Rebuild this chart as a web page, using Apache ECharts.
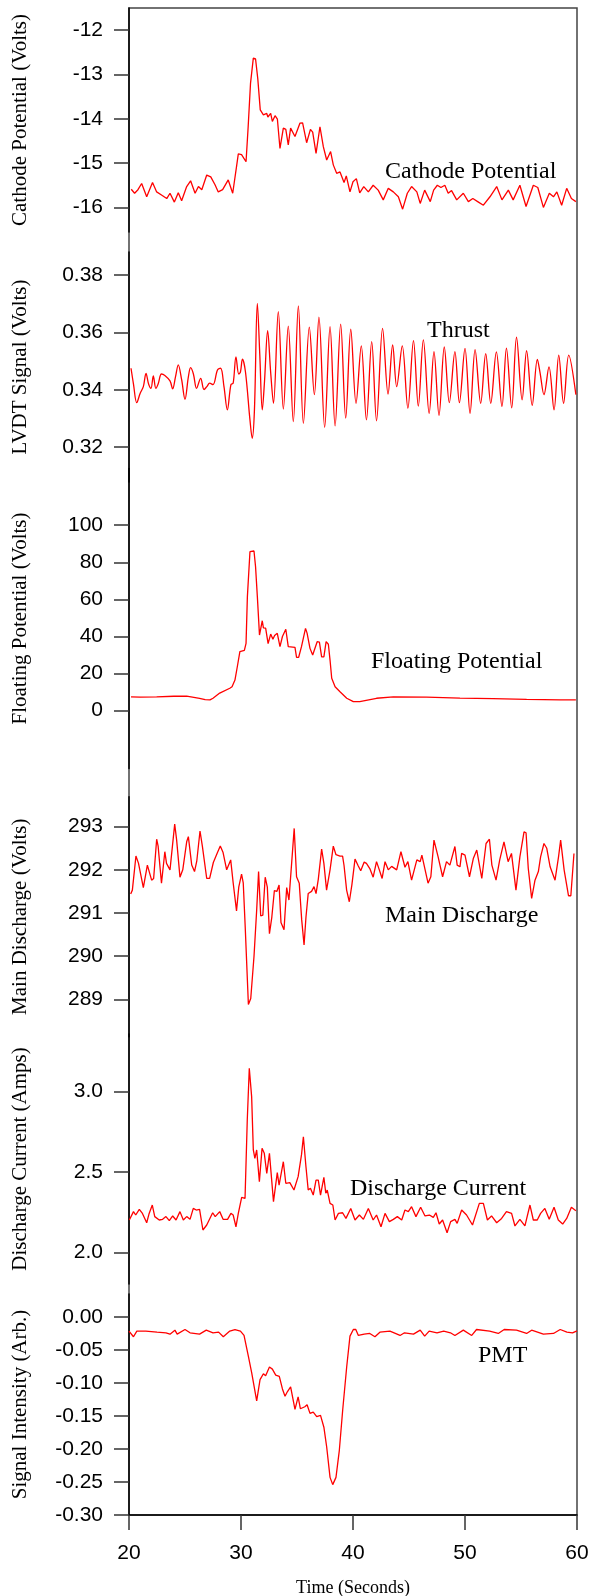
<!DOCTYPE html>
<html>
<head>
<meta charset="utf-8">
<script src="https://cdn.jsdelivr.net/npm/echarts@6/dist/echarts.min.js"></script>
<style>
  html, body { margin: 0; padding: 0; background: #fff; }
  #chart { width: 590px; height: 1596px; }
</style>
</head>
<body>
<div id="chart"></div>
<script>
// time (s), value
const cathode = [[20.2,-15.59],[20.5,-15.68],[20.8,-15.6],[21.13,-15.46],[21.58,-15.76],[22.1,-15.44],[22.47,-15.65],[22.9,-15.72],[23.37,-15.8],[23.66,-15.68],[24.05,-15.88],[24.4,-15.67],[24.7,-15.85],[25.15,-15.53],[25.5,-15.4],[25.9,-15.68],[26.2,-15.53],[26.5,-15.6],[26.94,-15.27],[27.3,-15.31],[27.68,-15.49],[27.97,-15.65],[28.36,-15.6],[28.86,-15.38],[29.26,-15.68],[29.6,-15.08],[29.76,-14.79],[30.05,-14.81],[30.45,-14.97],[30.64,-14.18],[30.85,-13.2],[31.1,-12.63],[31.3,-12.65],[31.5,-13.1],[31.72,-13.8],[32.0,-13.91],[32.3,-13.88],[32.4,-13.96],[32.65,-13.88],[32.8,-14.06],[33.04,-13.93],[33.25,-14.01],[33.48,-14.67],[33.78,-14.21],[34.0,-14.24],[34.22,-14.59],[34.43,-14.21],[34.82,-14.4],[35.26,-14.1],[35.5,-14.09],[35.86,-14.54],[36.2,-14.24],[36.4,-14.3],[36.7,-14.78],[37.05,-14.18],[37.35,-14.63],[37.65,-14.93],[38.0,-14.74],[38.24,-15.04],[38.54,-15.23],[38.84,-15.2],[39.2,-15.44],[39.4,-15.29],[39.73,-15.65],[40.0,-15.42],[40.3,-15.35],[40.6,-15.67],[40.96,-15.53],[41.37,-15.65],[41.8,-15.5],[42.25,-15.61],[42.7,-15.83],[43.15,-15.57],[43.6,-15.65],[44.05,-15.76],[44.43,-16.04],[44.85,-15.68],[45.23,-15.53],[45.7,-15.65],[46.0,-15.91],[46.4,-15.61],[46.9,-15.87],[47.2,-15.61],[47.53,-15.5],[47.85,-15.55],[48.2,-15.5],[48.5,-15.68],[48.8,-15.62],[49.26,-15.83],[49.85,-15.68],[50.3,-15.87],[50.7,-15.8],[51.2,-15.88],[51.64,-15.95],[52.23,-15.76],[52.83,-15.53],[53.3,-15.83],[53.87,-15.61],[54.3,-15.83],[54.9,-15.5],[55.45,-15.98],[56.1,-15.5],[56.5,-15.55],[57.0,-16.0],[57.53,-15.68],[57.9,-15.76],[58.2,-15.65],[58.63,-15.95],[59.08,-15.57],[59.5,-15.8],[59.9,-15.87]];

const thrust = [[20.18,0.3475],[20.4,0.342],[20.69,0.3355],[21.0,0.3388],[21.28,0.3411],[21.52,0.3457],[21.75,0.342],[21.96,0.3405],[22.17,0.3448],[22.4,0.3405],[22.6,0.342],[22.9,0.3455],[23.2,0.345],[23.66,0.3431],[23.9,0.3403],[24.15,0.3445],[24.4,0.3487],[24.7,0.3435],[25.0,0.3367],[25.3,0.3445],[25.5,0.3477],[25.75,0.3455],[26.03,0.3405],[26.4,0.344],[26.7,0.3401],[26.95,0.3411],[27.2,0.3423],[27.5,0.3418],[27.9,0.3469],[28.18,0.3475],[28.48,0.3411],[28.78,0.333],[29.1,0.3418],[29.3,0.3423],[29.55,0.3515],[29.8,0.3455],[29.95,0.3462],[30.13,0.3507],[30.4,0.3462],[30.8,0.3295],[31.0,0.3231],[31.2,0.333],[31.46,0.3701],[31.68,0.352],[31.9,0.333],[32.1,0.343],[32.38,0.3606],[32.65,0.346],[32.9,0.3353],[33.33,0.3672],[33.78,0.3333],[34.22,0.3622],[34.67,0.3289],[35.12,0.3692],[35.57,0.3283],[36.1,0.3618],[36.55,0.3383],[36.96,0.3653],[37.47,0.3269],[37.95,0.362],[38.4,0.3274],[38.9,0.3629],[39.35,0.3301],[39.8,0.3611],[40.27,0.3353],[40.74,0.3553],[41.2,0.3295],[41.67,0.3568],[42.1,0.3292],[42.64,0.3614],[43.13,0.3385],[43.54,0.3556],[43.9,0.3411],[44.4,0.3553],[44.9,0.3336],[45.4,0.3571],[45.83,0.3343],[46.28,0.3574],[46.8,0.3318],[47.23,0.3533],[47.68,0.3311],[48.15,0.3549],[48.6,0.3355],[49.1,0.3533],[49.5,0.3355],[50.0,0.3544],[50.45,0.3318],[50.9,0.354],[51.4,0.3353],[51.85,0.3526],[52.3,0.3353],[52.8,0.3532],[53.3,0.3342],[53.7,0.3545],[54.17,0.3337],[54.6,0.3583],[55.1,0.3365],[55.5,0.3536],[56.0,0.3346],[56.46,0.3506],[56.7,0.346],[57.05,0.3383],[57.5,0.348],[57.95,0.333],[58.37,0.3521],[58.8,0.3353],[59.26,0.3521],[59.9,0.3383]];

const floating = [[20.18,7.5],[21.0,7.3],[22.47,7.5],[24.0,7.8],[25.15,7.9],[26.3,6.7],[26.8,6.0],[27.23,5.8],[27.5,6.7],[28.1,9.5],[29.0,12.1],[29.2,12.9],[29.46,16.5],[29.67,23.7],[29.9,31.8],[30.3,32.5],[30.45,36.3],[30.57,61.5],[30.8,85.7],[31.16,86.1],[31.3,77.6],[31.46,61.5],[31.65,40.8],[31.9,48.5],[32.0,44.6],[32.2,44.5],[32.42,36.2],[32.65,41.3],[32.85,38.5],[33.0,40.5],[33.24,41.7],[33.48,34.5],[33.7,40.0],[34.0,43.9],[34.22,34.5],[34.82,34.1],[34.96,28.8],[35.15,28.8],[35.4,34.5],[35.76,44.4],[35.9,41.8],[36.16,33.6],[36.4,30.0],[36.55,29.0],[36.8,37.2],[37.0,37.0],[37.2,29.0],[37.4,29.0],[37.6,37.2],[37.8,35.8],[37.95,27.3],[38.1,17.5],[38.4,12.9],[38.84,10.2],[39.44,6.7],[40.03,4.9],[40.6,4.9],[42.1,6.7],[43.6,7.5],[46.57,7.3],[49.55,6.8],[52.5,6.5],[55.5,6.1],[58.5,5.8],[59.9,5.8]];

const mainDischarge = [[20.15,291.44],[20.3,291.53],[20.62,292.32],[20.85,292.15],[21.28,291.59],[21.64,292.11],[21.8,292.11],[22.02,291.76],[22.2,291.8],[22.47,292.71],[22.6,292.55],[22.9,291.69],[23.2,292.42],[23.35,292.15],[23.66,292.0],[24.08,293.06],[24.25,292.7],[24.55,291.83],[24.8,292.0],[25.15,292.65],[25.3,292.77],[25.6,292.11],[25.85,291.96],[26.05,292.2],[26.34,292.9],[26.55,292.55],[26.94,291.8],[27.2,291.8],[27.53,292.17],[27.9,292.4],[28.15,292.55],[28.4,292.4],[28.72,292.0],[29.08,292.23],[29.3,291.7],[29.6,291.05],[29.8,291.6],[30.05,291.9],[30.2,291.7],[30.38,290.65],[30.66,288.88],[30.87,289.02],[31.16,289.99],[31.4,291.07],[31.57,291.96],[31.76,290.93],[31.95,290.95],[32.16,291.83],[32.35,291.6],[32.54,290.52],[32.75,290.9],[32.98,291.52],[33.2,291.5],[33.4,291.65],[33.57,290.78],[33.84,290.61],[34.08,291.59],[34.28,291.3],[34.52,292.15],[34.75,292.96],[34.96,291.84],[35.2,291.69],[35.42,290.84],[35.63,290.26],[35.8,290.9],[36.0,291.45],[36.3,291.5],[36.52,291.61],[36.7,291.45],[36.9,291.78],[37.2,292.48],[37.4,292.15],[37.64,291.53],[37.95,292.0],[38.24,292.55],[38.48,292.35],[38.84,292.32],[39.07,292.32],[39.2,292.1],[39.43,291.53],[39.67,291.26],[39.9,291.65],[40.18,292.25],[40.45,292.1],[40.69,291.98],[41.0,292.18],[41.2,292.15],[41.5,292.03],[41.8,291.83],[42.1,292.19],[42.35,292.0],[42.6,291.8],[42.86,292.19],[43.15,292.0],[43.45,292.08],[43.9,292.0],[44.28,292.42],[44.64,292.06],[44.9,292.19],[45.23,291.76],[45.7,292.23],[46.0,292.19],[46.15,292.34],[46.7,291.69],[46.95,291.84],[47.23,292.69],[47.6,292.3],[48.0,291.84],[48.35,292.19],[48.65,292.11],[49.1,292.54],[49.3,292.11],[49.55,292.07],[49.7,292.38],[50.0,292.34],[50.4,291.84],[50.75,292.27],[51.05,292.46],[51.5,291.8],[51.88,292.61],[52.18,292.71],[52.4,292.11],[52.77,291.76],[53.1,292.23],[53.48,292.65],[53.85,292.19],[54.15,292.38],[54.55,291.53],[54.9,292.3],[55.27,292.88],[55.45,292.86],[55.65,292.03],[55.95,291.34],[56.25,291.76],[56.55,291.96],[56.75,292.3],[57.05,292.61],[57.3,292.5],[57.6,292.07],[58.04,291.76],[58.35,292.3],[58.54,292.69],[58.85,292.0],[59.24,291.4],[59.45,291.4],[59.73,292.38]];

const dischargeCurrent = [[20.03,2.203],[20.4,2.255],[20.6,2.234],[20.92,2.269],[21.2,2.244],[21.58,2.186],[21.8,2.244],[22.08,2.296],[22.3,2.224],[22.7,2.203],[23.0,2.207],[23.3,2.224],[23.6,2.199],[23.9,2.228],[24.2,2.203],[24.55,2.255],[24.85,2.203],[25.15,2.224],[25.45,2.207],[25.74,2.275],[26.0,2.265],[26.3,2.269],[26.6,2.141],[26.94,2.172],[27.47,2.248],[27.7,2.224],[28.1,2.255],[28.4,2.207],[28.8,2.207],[29.1,2.244],[29.3,2.234],[29.55,2.161],[29.76,2.244],[30.06,2.344],[30.36,2.337],[30.56,2.824],[30.74,3.145],[30.95,2.969],[31.1,2.638],[31.24,2.586],[31.4,2.638],[31.64,2.441],[31.88,2.648],[32.08,2.617],[32.3,2.493],[32.54,2.617],[32.9,2.317],[33.24,2.497],[33.4,2.42],[33.78,2.565],[34.0,2.431],[34.36,2.435],[34.73,2.389],[35.1,2.472],[35.4,2.607],[35.57,2.72],[35.8,2.534],[36.0,2.389],[36.2,2.4],[36.45,2.358],[36.7,2.451],[36.9,2.451],[37.1,2.358],[37.4,2.468],[37.57,2.369],[37.7,2.389],[37.95,2.306],[38.2,2.296],[38.4,2.203],[38.7,2.244],[39.07,2.248],[39.37,2.213],[39.8,2.275],[40.18,2.203],[40.57,2.234],[40.93,2.207],[41.37,2.275],[41.8,2.203],[42.1,2.234],[42.5,2.161],[42.86,2.244],[43.25,2.193],[43.6,2.207],[43.96,2.224],[44.35,2.203],[44.64,2.265],[44.94,2.255],[45.23,2.286],[45.62,2.224],[46.04,2.282],[46.43,2.228],[46.82,2.234],[47.17,2.219],[47.41,2.248],[47.7,2.178],[48.0,2.203],[48.4,2.124],[48.72,2.193],[49.1,2.207],[49.3,2.182],[49.7,2.265],[50.14,2.234],[50.67,2.172],[51.28,2.306],[51.64,2.306],[52.0,2.203],[52.37,2.228],[52.83,2.186],[53.27,2.213],[53.7,2.255],[54.16,2.244],[54.46,2.166],[54.9,2.207],[55.35,2.166],[55.8,2.296],[56.1,2.203],[56.45,2.203],[56.75,2.244],[57.13,2.275],[57.52,2.207],[57.95,2.282],[58.33,2.203],[58.72,2.178],[59.08,2.213],[59.5,2.282],[59.9,2.261]];

const pmt = [[20.0,-0.0214],[20.4,-0.03],[20.7,-0.0214],[21.5,-0.0214],[22.5,-0.023],[23.3,-0.024],[23.66,-0.026],[24.1,-0.02],[24.3,-0.026],[25.0,-0.019],[25.45,-0.024],[26.3,-0.026],[26.9,-0.02],[27.5,-0.024],[28.0,-0.023],[28.42,-0.03],[29.0,-0.0214],[29.46,-0.019],[29.95,-0.0214],[30.27,-0.028],[30.66,-0.0596],[30.96,-0.085],[31.4,-0.127],[31.7,-0.095],[32.0,-0.086],[32.2,-0.089],[32.54,-0.0759],[32.8,-0.079],[33.1,-0.088],[33.42,-0.09],[33.7,-0.109],[33.93,-0.12],[34.15,-0.113],[34.43,-0.106],[34.82,-0.14],[35.1,-0.121],[35.3,-0.139],[35.7,-0.136],[35.9,-0.133],[36.16,-0.146],[36.45,-0.144],[36.76,-0.151],[37.1,-0.149],[37.4,-0.167],[37.65,-0.197],[37.95,-0.243],[38.19,-0.254],[38.48,-0.243],[38.78,-0.202],[39.08,-0.141],[39.44,-0.075],[39.73,-0.029],[40.03,-0.019],[40.25,-0.019],[40.48,-0.028],[41.0,-0.026],[41.5,-0.025],[41.96,-0.03],[42.4,-0.023],[43.3,-0.0214],[44.2,-0.028],[44.6,-0.024],[45.4,-0.026],[46.0,-0.02],[46.4,-0.029],[46.8,-0.0214],[47.5,-0.024],[48.1,-0.0214],[48.7,-0.024],[49.1,-0.028],[49.85,-0.02],[50.6,-0.028],[51.03,-0.019],[52.2,-0.0214],[52.97,-0.025],[53.5,-0.019],[54.6,-0.02],[55.5,-0.025],[55.95,-0.02],[57.0,-0.026],[57.9,-0.025],[58.5,-0.019],[59.1,-0.023],[59.6,-0.024],[60.0,-0.021]];

// tick values of each panel
const cathodeTicks = [-16, -15, -14, -13, -12];
const thrustTicks = [0.32, 0.34, 0.36, 0.38];
const floatingTicks = [0, 20, 40, 60, 80, 100];
const mainTicks = [289, 290, 291, 292, 293];
const currentTicks = [2.0, 2.5, 3.0];
const pmtTicks = [0, -0.05, -0.1, -0.15, -0.2, -0.25, -0.3];
const timeTicks = [20, 30, 40, 50, 60];

// panel layout (pixels) and axis ranges
const panels = [
  { title: 'Cathode Potential (Volts)', tag: 'Cathode Potential', data: cathode, ticks: cathodeTicks, digits: 0, top: 8, height: 224, min: -16.555, max: -11.5, tagX: 385, tagY: 172 },
  { title: 'LVDT Signal (Volts)', tag: 'Thrust', data: thrust, ticks: thrustTicks, digits: 2, top: 252, height: 230, min: 0.30787, max: 0.38801, tagX: 427, tagY: 331, smooth: 0.35 },
  { title: 'Floating Potential (Volts)', tag: 'Floating Potential', data: floating, ticks: floatingTicks, digits: 0, top: 468.5, height: 300, min: -31.16, max: 130.57, tagX: 371, tagY: 662 },
  { title: 'Main Discharge (Volts)', tag: 'Main Discharge', data: mainDischarge, ticks: mainTicks, digits: 0, top: 796.7, height: 240, min: 288.133, max: 293.695, tagX: 385, tagY: 916 },
  { title: 'Discharge Current (Amps)', tag: 'Discharge Current', data: dischargeCurrent, ticks: currentTicks, digits: 1, top: 1034, height: 250, min: 1.8056, max: 3.358, tagX: 350, tagY: 1189 },
  { title: 'Signal Intensity (Arb.)', tag: 'PMT', data: pmt, ticks: pmtTicks, digits: 2, top: 1294, height: 221, min: -0.30, max: 0.0348, tagX: 478, tagY: 1356 }
];

const SERIF = '"Liberation Serif", "Times New Roman", serif';
const SANS = '"Liberation Sans", Arial, sans-serif';
const LEFT = 129;
const RIGHT = 13;

const chart = echarts.init(document.getElementById('chart'), null, { renderer: 'canvas' });

// grid 0 is only the outer box
const grid = [{ left: LEFT, right: RIGHT, top: 8, bottom: 81, show: true, borderColor: '#444', borderWidth: 1.5, outerBoundsMode: 'none' }];
const xAxis = [{ gridIndex: 0, type: 'value', min: 20, max: 60, show: false }];
const yAxis = [{ gridIndex: 0, type: 'value', min: 0, max: 1, show: false }];
const series = [];
const last = panels.length - 1;

panels.forEach((p, i) => {
  const g = i + 1;
  // keep the panels exactly where they are set, labels may go outside
  grid.push({ left: LEFT, right: RIGHT, top: p.top, height: p.height, outerBoundsMode: 'none' });
  xAxis.push(i === last ? {
    gridIndex: g, type: 'value', min: 20, max: 60,
    name: 'Time (Seconds)', nameLocation: 'middle', nameGap: 64,
    nameTextStyle: { fontFamily: SERIF, fontSize: 18, color: '#000' },
    axisLine: { onZero: false, lineStyle: { color: '#000', width: 1.5 } },
    axisTick: { length: 15, customValues: timeTicks, lineStyle: { color: '#333', width: 1.5 } },
    axisLabel: { customValues: timeTicks, margin: 28, fontFamily: SANS, fontSize: 21, color: '#000' },
    splitLine: { show: false }
  } : { gridIndex: g, type: 'value', min: 20, max: 60, show: false });
  yAxis.push({
    gridIndex: g, type: 'value', min: p.min, max: p.max,
    name: p.title, nameLocation: 'middle', nameRotate: 90, nameGap: 98,
    nameTextStyle: { fontFamily: SERIF, fontSize: 21, color: '#000' },
    axisLine: { show: true, onZero: false, lineStyle: { color: '#000', width: 1.5 } },
    axisTick: { show: true, length: 15, customValues: p.ticks, lineStyle: { color: '#333', width: 1.5 } },
    axisLabel: { customValues: p.ticks, margin: 26, fontFamily: SANS, fontSize: 21, color: '#000',
      formatter: v => Number(v).toFixed(p.digits) },
    splitLine: { show: false }
  });
  series.push({
    type: 'line', xAxisIndex: g, yAxisIndex: g, data: p.data,
    showSymbol: false, smooth: p.smooth || false,
    lineStyle: { color: '#ff0000', width: 1.3 }
  });
});

// the in-plot series names
const graphic = panels.map(p => ({
  type: 'text', x: p.tagX, y: p.tagY, z: 10,
  style: { text: p.tag, fontFamily: SERIF, fontSize: 24, fill: '#000', verticalAlign: 'middle' }
}));

chart.setOption({ animation: false, grid, xAxis, yAxis, series, graphic });
</script>
</body>
</html>
